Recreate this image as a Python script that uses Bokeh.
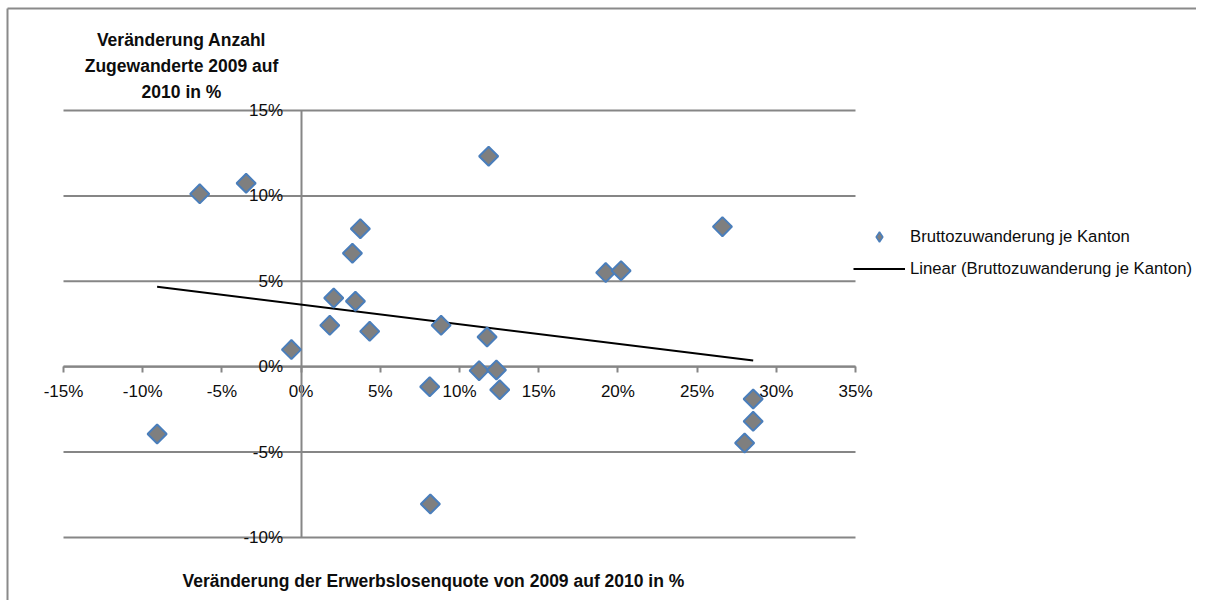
import numpy as np
from bokeh.plotting import figure
from bokeh.models import (Range1d, LinearAxis, FixedTicker, NumeralTickFormatter,
                          Legend, LegendItem, Label)
from bokeh.embed import file_html
from bokeh.resources import INLINE

# Veränderung der Erwerbslosenquote 2009 -> 2010 (fraction)
x_erwerbslos = [-0.0909, -0.0640, -0.0347, -0.0061, 0.0206, 0.0181, 0.0343, 0.0324,
                0.0374, 0.0433, 0.0884, 0.1174, 0.1124, 0.1233, 0.0812, 0.1254,
                0.2854, 0.2854, 0.2800, 0.0816, 0.1184, 0.2660, 0.1923, 0.2020]
# Veränderung Anzahl Zugewanderte 2009 -> 2010 (fraction)
y_zuwanderung = [-0.0394, 0.1012, 0.1074, 0.0100, 0.0402, 0.0242, 0.0383, 0.0664,
                 0.0808, 0.0207, 0.0242, 0.0174, -0.0023, -0.0019, -0.0117, -0.0135,
                 -0.0189, -0.0320, -0.0447, -0.0804, 0.1232, 0.0820, 0.0551, 0.0562]

x_ticks = [-0.15, -0.10, -0.05, 0.0, 0.05, 0.10, 0.15, 0.20, 0.25, 0.30, 0.35]
y_ticks = [-0.10, -0.05, 0.0, 0.05, 0.10, 0.15]

series_label = "Bruttozuwanderung je Kanton"
trend_label = "Linear (Bruttozuwanderung je Kanton)"
y_title = "Veränderung Anzahl\nZugewanderte 2009 auf\n2010 in %"
x_title = "Veränderung der Erwerbslosenquote von 2009 auf 2010 in %"

FONT = "Liberation Sans"
GRID = "#868686"
TXT = "#0d0d0d"
MARK_FILL = "#7f7f7f"
MARK_LINE = "#4a7ebb"

# layout: canvas size and where the axis box sits on it (pixels)
W, H = 1196, 600
PX_LEFT, PX_RIGHT, PX_TOP, PX_BOTTOM = 63, 855, 110, 537


def px_x(px):
    return x_ticks[0] + (px - PX_LEFT) * (x_ticks[-1] - x_ticks[0]) / (PX_RIGHT - PX_LEFT)


def px_y(py):
    return y_ticks[-1] - (py - PX_TOP) * (y_ticks[-1] - y_ticks[0]) / (PX_BOTTOM - PX_TOP)


p = figure(width=W, height=H,
           x_range=Range1d(px_x(0), px_x(W)),
           y_range=Range1d(px_y(H), px_y(0)),
           x_axis_type=None, y_axis_type=None,
           output_backend="svg", toolbar_location=None,
           min_border=0, min_border_left=0, min_border_right=0,
           min_border_top=0, min_border_bottom=0)
p.outline_line_color = None
p.background_fill_color = "white"
p.border_fill_color = "white"

# outer chart border: left and top edges (the rest lies beyond the picture)
p.segment(x0=[px_x(7), px_x(7)], y0=[px_y(8), px_y(8)],
          x1=[px_x(W), px_x(7)], y1=[px_y(8), px_y(H)],
          line_color="#8a8a8a", line_width=2, level="underlay")

# horizontal gridlines spanning the axis box
p.segment(x0=x_ticks[0], x1=x_ticks[-1], y0=y_ticks, y1=y_ticks,
          line_color=GRID, line_width=2, level="underlay")

xaxis = LinearAxis(ticker=FixedTicker(ticks=x_ticks),
                   formatter=NumeralTickFormatter(format="0%"),
                   fixed_location=0, bounds=(x_ticks[0], x_ticks[-1]))
yaxis = LinearAxis(ticker=FixedTicker(ticks=y_ticks),
                   formatter=NumeralTickFormatter(format="0%"),
                   fixed_location=0, bounds=(y_ticks[0], y_ticks[-1]))
for ax in (xaxis, yaxis):
    ax.level = "underlay"
    ax.axis_line_color = GRID
    ax.axis_line_width = 2
    ax.minor_tick_line_color = None
    ax.major_label_text_font = FONT
    ax.major_label_text_font_size = "17px"
    ax.major_label_text_color = TXT
xaxis.major_tick_line_color = GRID
xaxis.major_tick_line_width = 2
xaxis.major_tick_out = 6
xaxis.major_tick_in = 0
xaxis.major_label_standoff = 9
yaxis.major_tick_line_color = None
yaxis.major_tick_out = 0
yaxis.major_tick_in = 0
yaxis.major_label_standoff = 18
p.add_layout(xaxis, "below")
p.add_layout(yaxis, "left")

xs = np.array(x_erwerbslos)
ys = np.array(y_zuwanderung)
slope, intercept = np.polyfit(xs, ys, 1)
trend_x = [float(xs.min()), float(xs.max())]
trend_y = [float(slope * v + intercept) for v in trend_x]

ln = p.line(trend_x, trend_y, line_color="black", line_width=2)
sc = p.scatter(x_erwerbslos, y_zuwanderung, marker="square", angle=np.pi / 4,
               size=13.5, fill_color=MARK_FILL, line_color=MARK_LINE, line_width=2)
# legend symbol (legend markers are drawn unrotated, so use a diamond shape);
# its single point is NaN, so nothing is drawn in the plot itself
legend_sym = p.scatter(x=[np.nan], y=[np.nan], marker="diamond", fill_color=MARK_FILL,
                       line_color=MARK_LINE, line_width=1.5)

legend = Legend(items=[LegendItem(label=series_label, renderers=[legend_sym]),
                       LegendItem(label=trend_label, renderers=[ln])],
                location=(853, H - 281), orientation="vertical")
legend.border_line_color = None
legend.background_fill_alpha = 0
legend.padding = 0
legend.margin = 0
legend.spacing = 7
legend.glyph_width = 52
legend.glyph_height = 25
legend.label_height = 20
legend.label_standoff = 5
legend.label_text_font = FONT
legend.label_text_font_size = "16.7px"
legend.label_text_color = TXT
p.add_layout(legend)

p.add_layout(Label(x=px_x(181), y=px_y(29), text=y_title, text_align="center",
                   text_baseline="top", text_font=FONT, text_font_style="bold",
                   text_font_size="17.5px", text_color=TXT, text_line_height=1.3))
p.add_layout(Label(x=px_x(182), y=px_y(580), text=x_title, text_align="left",
                   text_baseline="middle", text_font=FONT, text_font_style="bold",
                   text_font_size="17.5px", text_color=TXT))

open("out.html", "w").write(file_html(p, INLINE))
